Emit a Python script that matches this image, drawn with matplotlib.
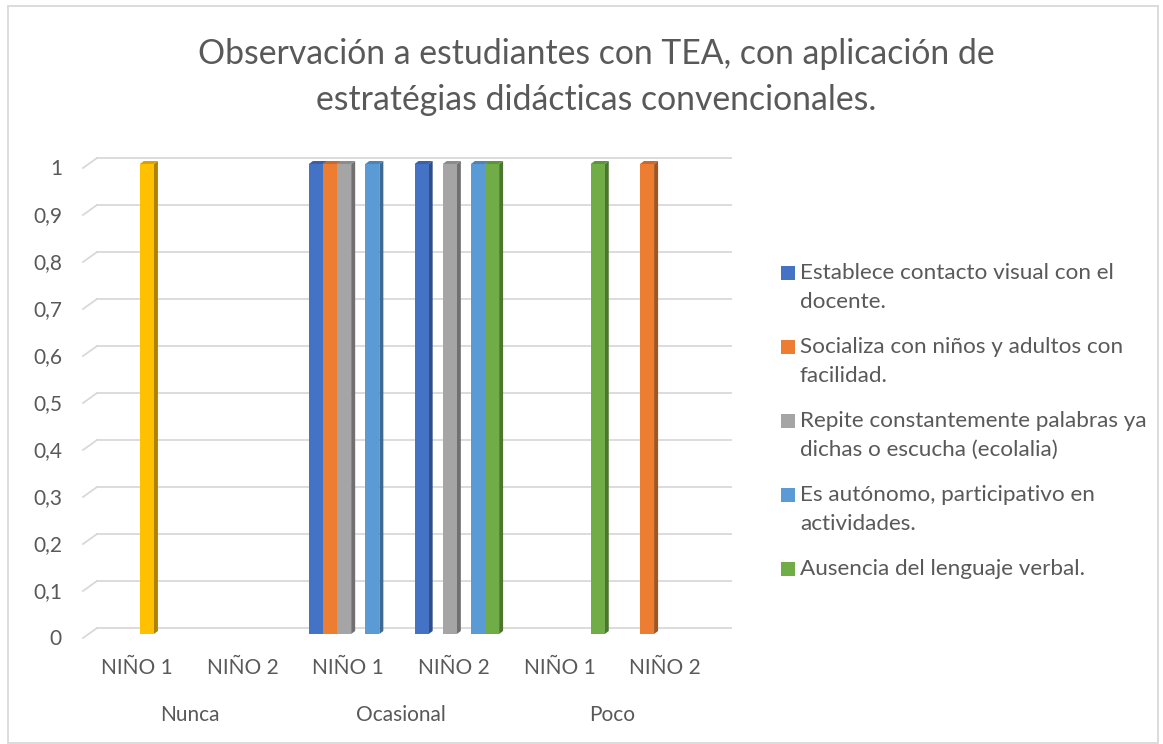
import textwrap

import matplotlib
matplotlib.use('Agg')
import matplotlib.pyplot as plt
import matplotlib.transforms as mtransforms
from matplotlib.patches import Polygon, Rectangle
from matplotlib.lines import Line2D

W, H, DPI = 1163, 744, 100
TEXT = '#595959'
GRID = '#D9D9D9'

title = 'Observación a estudiantes con TEA, con aplicación de\nestratégias didácticas convencionales.'
groups = ['Nunca', 'Ocasional', 'Poco']
kids = ['NIÑO 1', 'NIÑO 2']
categories = [k for g in groups for k in kids]

series_names = [
    'Establece contacto visual con el docente.',
    'Socializa con niños y adultos con facilidad.',
    'Repite constantemente palabras ya dichas o escucha (ecolalia)',
    '',
    'Es autónomo, participativo en actividades.',
    'Ausencia del lenguaje verbal.',
]
series_values = [
    [0, 0, 1, 1, 0, 0],
    [0, 0, 1, 0, 0, 1],
    [0, 0, 1, 1, 0, 0],
    [1, 0, 0, 0, 0, 0],
    [0, 0, 1, 1, 0, 0],
    [0, 0, 0, 1, 1, 0],
]
colors = ['#4472C4', '#ED7D31', '#A5A5A5', '#FFC000', '#5B9BD5', '#70AD47']
yticks = [i / 10 for i in range(11)]


def shade(c, f):
    r, g, b = matplotlib.colors.to_rgb(c)
    return (r * f, g * f, b * f)


def px(x, y):
    return x / W, 1 - y / H


plt.rcParams['font.family'] = ['Lato', 'DejaVu Sans']
fig = plt.figure(figsize=(W / DPI, H / DPI), dpi=DPI)
fig.patches.append(Rectangle(px(8, 743), 1150 / W, 737 / H, transform=fig.transFigure,
                             fill=False, edgecolor=GRID, lw=1.3))

# axes = plane of the bars
ax_l, ax_r, ax_t, ax_b = 87, 721, 164, 634
ax = fig.add_axes([ax_l / W, 1 - ax_b / H, (ax_r - ax_l) / W, (ax_b - ax_t) / H])
ax.set_xlim(-0.5, len(categories) - 0.5)
ax.set_ylim(0, 1)
ax.axis('off')

sx = len(categories) / (ax_r - ax_l)
sy = 1 / (ax_b - ax_t)


def offset(dx, dy):
    return ax.transData + mtransforms.ScaledTranslation(dx / DPI, dy / DPI, fig.dpi_scale_trans)


# back wall gridlines with the little floor diagonal on the left
back, front = offset(10, 6), offset(-4, -4)
for v in yticks:
    ax.plot([-0.5, len(categories) - 0.5], [v, v], color=GRID, lw=1.3, transform=back,
            zorder=1, clip_on=False)
    p0 = front.transform((-0.5, v))
    p1 = back.transform((-0.5, v))
    fig.lines.append(Line2D([p0[0], p1[0]], [p0[1], p1[1]], color=GRID, lw=1.3,
                            transform=mtransforms.IdentityTransform()))
    ax.text(-0.5, v, str(round(v, 1)).replace('.', ',') if v not in (0, 1) else str(int(v)),
            transform=offset(-25, -5), ha='right', va='center', fontsize=15, color=TEXT)

# 3d-ish clustered columns
n = len(series_values)
bw = 1 / (n + 1.5)
ddx, ddy = 4 * sx, 3 * sy
bars = []
for i, vals in enumerate(series_values):
    for c, v in enumerate(vals):
        if v > 0:
            bars.append((c - n * bw / 2 + i * bw, v, colors[i]))
bars.sort()
for z, (left, v, col) in enumerate(bars):
    r = left + bw
    ax.add_patch(Polygon([(r, 0), (r + ddx, ddy), (r + ddx, v + ddy), (r, v)],
                         facecolor=shade(col, 0.68), edgecolor='none', zorder=2 + z, clip_on=False))
    ax.add_patch(Polygon([(left, v), (r, v), (r + ddx, v + ddy), (left + ddx, v + ddy)],
                         facecolor=shade(col, 0.85), edgecolor='none', zorder=2 + z, clip_on=False))
    ax.bar(left, v, width=bw, align='edge', color=col, zorder=2 + z, clip_on=False)

# category labels
for c, lab in enumerate(categories):
    ax.text(c, 0, lab, transform=offset(-3, -34), ha='center', va='center', fontsize=15, color=TEXT)
for g, lab in enumerate(groups):
    ax.text(2 * g + 0.5, 0, lab, transform=offset(-3, -81), ha='center', va='center',
            fontsize=15, color=TEXT)

fig.text(*px(596, 77), title, ha='center', va='center', fontsize=24.3, color=TEXT, linespacing=1.55)

# legend
y0 = 273
for name, col in zip(series_names, colors):
    if not name:
        continue
    fig.patches.append(Rectangle(px(781, y0 + 7), 14 / W, 14 / H, transform=fig.transFigure,
                                 facecolor=col, edgecolor='none'))
    for k, line in enumerate(textwrap.wrap(name, 33)):
        fig.text(*px(800, y0 + 29 * k), line, ha='left', va='center', fontsize=16.2, color=TEXT)
    y0 += 74

fig.savefig('out.png', dpi=DPI)
